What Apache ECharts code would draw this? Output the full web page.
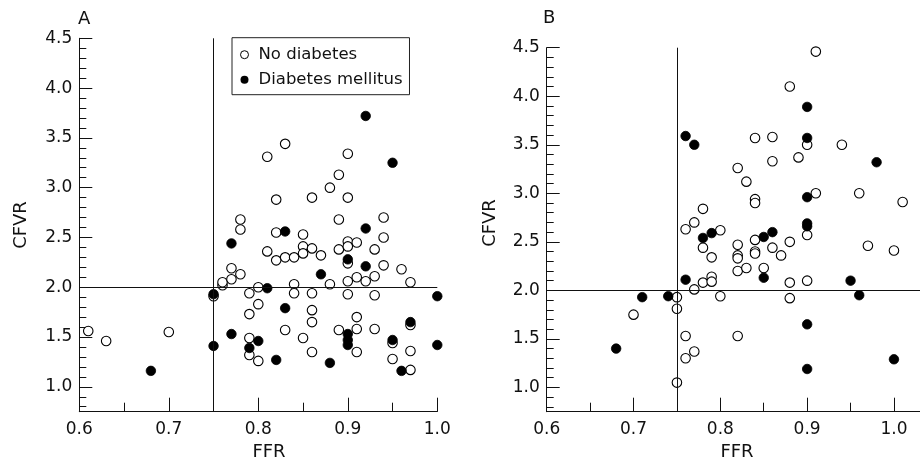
<!DOCTYPE html>
<html>
<head>
<meta charset="utf-8">
<script src="https://cdn.jsdelivr.net/npm/echarts@6/dist/echarts.min.js"></script>
<style>html,body{margin:0;padding:0;background:#fff;}#c{width:920px;height:462px;}</style>
</head>
<body>
<div id="c"></div>
<script>
// ---- data ----
const noDiabetesA = [
 [0.61,1.56],[0.63,1.46],[0.70,1.55],[0.75,1.91],[0.76,2.02],[0.76,2.05],[0.77,2.08],[0.77,2.19],
 [0.78,2.68],[0.78,2.58],[0.78,2.13],[0.79,1.94],[0.79,1.73],[0.79,1.49],[0.79,1.32],[0.80,2.00],
 [0.80,1.83],[0.80,1.26],[0.81,2.36],[0.81,3.31],[0.82,2.55],[0.82,2.27],[0.82,2.88],[0.83,3.44],
 [0.83,2.30],[0.83,1.57],[0.84,2.30],[0.84,2.03],[0.84,1.94],[0.85,2.53],[0.85,2.41],[0.85,2.34],
 [0.85,1.49],[0.86,2.90],[0.86,2.39],[0.86,1.94],[0.86,1.77],[0.86,1.65],[0.86,1.35],[0.87,2.32],
 [0.88,3.00],[0.88,2.03],[0.89,3.13],[0.89,2.68],[0.89,2.38],[0.89,1.57],[0.90,3.34],[0.90,2.90],
 [0.90,2.46],[0.90,2.41],[0.90,2.24],[0.90,2.06],[0.90,1.93],[0.91,2.45],[0.91,2.10],[0.91,1.70],
 [0.91,1.58],[0.91,1.35],[0.92,2.06],[0.93,2.38],[0.93,2.11],[0.93,1.92],[0.93,1.58],[0.94,2.70],
 [0.94,2.50],[0.94,2.22],[0.95,1.44],[0.95,1.28],[0.96,2.18],[0.97,2.05],[0.97,1.62],[0.97,1.36],
 [0.97,1.17]
];
const diabetesA = [
 [0.68,1.16],[0.75,1.93],[0.75,1.41],[0.77,2.44],[0.77,1.53],[0.79,1.39],[0.80,1.46],[0.81,1.99],
 [0.82,1.27],[0.83,2.56],[0.83,1.79],[0.87,2.13],[0.88,1.24],[0.90,2.28],[0.90,1.53],[0.90,1.47],
 [0.90,1.42],[0.92,3.72],[0.92,2.59],[0.92,2.21],[0.95,3.25],[0.95,1.47],[0.96,1.16],[0.97,1.65],
 [1.00,1.91],[1.00,1.42]
];
const noDiabetesB = [
 [0.70,1.75],[0.75,1.93],[0.75,1.81],[0.75,1.05],[0.76,2.63],[0.76,1.53],[0.76,1.30],[0.77,2.70],
 [0.77,2.01],[0.77,1.37],[0.78,2.84],[0.78,2.44],[0.78,2.08],[0.79,2.34],[0.79,2.14],[0.79,2.09],
 [0.80,2.62],[0.80,1.94],[0.82,3.26],[0.82,2.47],[0.82,2.36],[0.82,2.33],[0.82,2.20],[0.82,1.53],
 [0.83,3.12],[0.83,2.23],[0.84,3.57],[0.84,2.94],[0.84,2.90],[0.84,2.52],[0.84,2.40],[0.84,2.38],
 [0.85,2.23],[0.86,3.58],[0.86,3.33],[0.86,2.44],[0.87,2.36],[0.88,4.10],[0.88,2.50],[0.88,2.08],
 [0.88,1.92],[0.89,3.37],[0.90,3.50],[0.90,2.57],[0.90,2.10],[0.91,4.46],[0.91,3.00],[0.94,3.50],
 [0.96,3.00],[0.97,2.46],[1.00,2.41],[1.01,2.91]
];
const diabetesB = [
 [0.68,1.40],[0.71,1.93],[0.74,1.94],[0.76,3.59],[0.76,2.11],[0.77,3.50],[0.78,2.54],[0.79,2.59],
 [0.85,2.55],[0.85,2.13],[0.86,2.60],[0.90,3.89],[0.90,3.57],[0.90,2.96],[0.90,2.69],[0.90,2.66],
 [0.90,1.65],[0.90,1.19],[0.95,2.10],[0.96,1.95],[0.98,3.32],[1.00,1.29]
];
const xMajorTicks = [0.6, 0.7, 0.8, 0.9, 1.0];
const xMinorTicks = [0.65, 0.75, 0.85, 0.95];
const yMajorTicks = [1.0, 1.5, 2.0, 2.5, 3.0, 3.5, 4.0, 4.5];
const yMinorTicks = [0.8, 0.9, 1.1, 1.2, 1.3, 1.4, 1.6, 1.7, 1.8, 1.9, 2.1, 2.2, 2.3, 2.4, 2.6, 2.7, 2.8, 2.9,
                     3.1, 3.2, 3.3, 3.4, 3.6, 3.7, 3.8, 3.9, 4.1, 4.2, 4.3, 4.4];
const FFR_CUTOFF = 0.75;
const CFVR_CUTOFF = 2.0;
const seriesNames = ['No diabetes', 'Diabetes mellitus'];

// ---- chart ----
const FONT = 'DejaVu Sans';
const INK = '#111';
const chart = echarts.init(document.getElementById('c'), null, {renderer: 'canvas'});

function xAxes(grid, max) {
  return [
    {type:'value', gridIndex:grid, min:0.6, max:max, position:'bottom',
     axisLine:{show:true, onZero:false, lineStyle:{color:INK, width:1}},
     axisTick:{show:true, inside:true, length:14, customValues:xMajorTicks, lineStyle:{color:INK}},
     axisLabel:{show:true, customValues:xMajorTicks, margin:9, color:INK, fontFamily:FONT, fontSize:17,
                formatter:v=>v.toFixed(1)},
     splitLine:{show:false}},
    {type:'value', gridIndex:grid, min:0.6, max:max, position:'bottom',
     axisLine:{show:false, onZero:false},
     axisTick:{show:true, inside:true, length:9, customValues:xMinorTicks, lineStyle:{color:INK}},
     axisLabel:{show:false}, splitLine:{show:false}}
  ];
}
function yAxes(grid) {
  return [
    {type:'value', gridIndex:grid, min:0.75, max:4.5, position:'left',
     axisLine:{show:true, onZero:false, lineStyle:{color:INK, width:1}},
     axisTick:{show:true, inside:true, length:13, customValues:yMajorTicks, lineStyle:{color:INK}},
     axisLabel:{show:true, customValues:yMajorTicks, margin:7, color:INK, fontFamily:FONT, fontSize:17,
                formatter:v=>v.toFixed(1)},
     splitLine:{show:false}},
    {type:'value', gridIndex:grid, min:0.75, max:4.5, position:'left',
     axisLine:{show:false, onZero:false},
     axisTick:{show:true, inside:true, length:7, customValues:yMinorTicks, lineStyle:{color:INK}},
     axisLabel:{show:false}, splitLine:{show:false}}
  ];
}
const refLines = {
  silent:true, symbol:['none','none'], animation:false,
  label:{show:false},
  lineStyle:{type:'solid', color:INK, width:1, opacity:1},
  emphasis:{disabled:true},
  data:[{xAxis:FFR_CUTOFF},{yAxis:CFVR_CUTOFF}]
};
function scatter(name, data, xi, yi, filled, withLines) {
  const s = {
    name:name, type:'scatter', xAxisIndex:xi, yAxisIndex:yi, data:data,
    symbol:'circle', symbolSize:9.5, animation:false,
    itemStyle: filled ? {color:'#000', borderColor:'#000', borderWidth:0.8, opacity:1}
                      : {color:'#fff', borderColor:'#000', borderWidth:1.1, opacity:1},
    emphasis:{disabled:true}
  };
  if (withLines) s.markLine = refLines;
  return s;
}
const option = {
  backgroundColor:'#fff',
  animation:false,
  grid:[
    {left:79.3, top:38.3, width:358, height:373.4, containLabel:false},
    {left:546.7, top:47.7, width:385.4, height:364, containLabel:false}
  ],
  xAxis:[...xAxes(0, 1.0), ...xAxes(1, 1.03)],
  yAxis:[...yAxes(0), ...yAxes(1)],
  legend:{
    show:true, orient:'vertical', left:232, top:37.7,
    data:[
      {name:seriesNames[0], itemStyle:{color:'#fff', borderColor:'#000', borderWidth:1, opacity:1}},
      {name:seriesNames[1], itemStyle:{color:'#000', borderColor:'#000', borderWidth:0, opacity:1}}
    ],
    backgroundColor:'#fff', borderColor:'#222', borderWidth:1,
    padding:[7, 7, 5, 8], itemGap:5, itemWidth:18, itemHeight:8,
    textStyle:{fontFamily:FONT, fontSize:16.5, color:INK, lineHeight:20},
    selectedMode:false
  },
  graphic:[
    {type:'text', left:78, top:10, style:{text:'A', font:'18px "DejaVu Sans"', fill:INK}},
    {type:'text', left:543, top:9, style:{text:'B', font:'18px "DejaVu Sans"', fill:INK}},
    {type:'text', x:21, y:225, rotation:Math.PI/2, style:{text:'CFVR', font:'18px "DejaVu Sans"', fill:INK, align:'center', verticalAlign:'middle'}},
    {type:'text', x:490, y:223, rotation:Math.PI/2, style:{text:'CFVR', font:'18px "DejaVu Sans"', fill:INK, align:'center', verticalAlign:'middle'}},
    {type:'text', x:269, y:452, style:{text:'FFR', font:'18px "DejaVu Sans"', fill:INK, align:'center', verticalAlign:'middle'}},
    {type:'text', x:737, y:452, style:{text:'FFR', font:'18px "DejaVu Sans"', fill:INK, align:'center', verticalAlign:'middle'}}
  ],
  series:[
    scatter(seriesNames[0], noDiabetesA, 0, 0, false, true),
    scatter(seriesNames[1], diabetesA, 0, 0, true, false),
    scatter(seriesNames[0], noDiabetesB, 2, 2, false, true),
    scatter(seriesNames[1], diabetesB, 2, 2, true, false)
  ]
};
chart.setOption(option);
</script>
</body>
</html>
